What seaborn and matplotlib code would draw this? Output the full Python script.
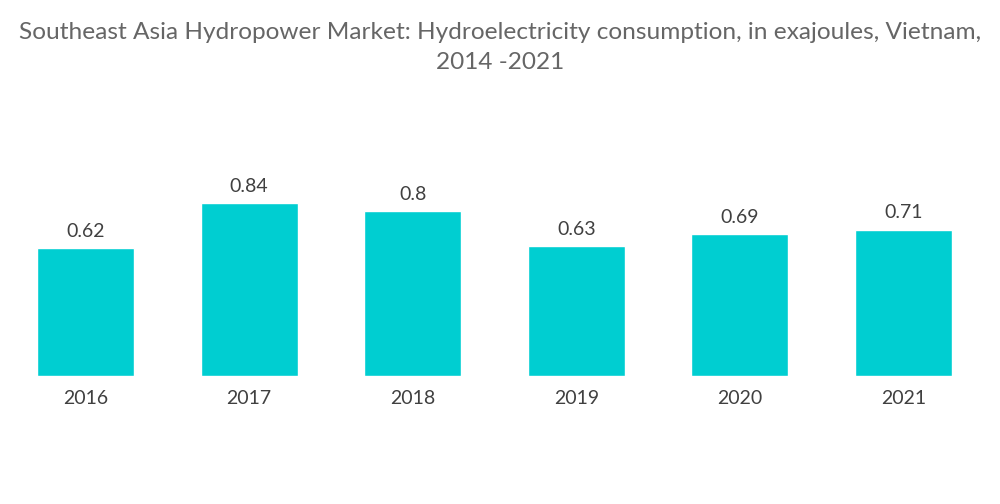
import matplotlib
matplotlib.use("Agg")
import matplotlib.pyplot as plt
import seaborn as sns
import pandas as pd

# ======================================
# DATA
# ======================================

years = ["2016", "2017", "2018", "2019", "2020", "2021"]
consumption = [0.62, 0.84, 0.8, 0.63, 0.69, 0.71]
value_labels = ["0.62", "0.84", "0.8", "0.63", "0.69", "0.71"]

title = ("Southeast Asia Hydropower Market: Hydroelectricity consumption, in exajoules, Vietnam,\n"
         "2014 -2021")

df = pd.DataFrame({"Year": years, "Consumption": consumption})

# ======================================
# PLOT
# ======================================

sns.set_style("white")
plt.rcParams["font.family"] = ["Lato", "DejaVu Sans"]

fig = plt.figure(figsize=(10, 5.04), dpi=100)
ax = fig.add_axes([0.0037, 0.254, 0.9816, 0.4087])

sns.barplot(data=df, x="Year", y="Consumption", color="#00CED1",
            saturation=1, width=0.593, ax=ax)

ax.set_xlim(-0.5, 5.5)
ax.set_ylim(0, 1)

for i, (v, lab) in enumerate(zip(consumption, value_labels)):
    ax.text(i, v + 0.04, lab, ha="center", va="bottom", fontsize=14, color="#404040")

ax.set_xlabel("")
ax.set_ylabel("")
ax.set_yticks([])
ax.tick_params(axis="x", length=0, labelsize=14, labelcolor="#404040", pad=10)
sns.despine(ax=ax, left=True, bottom=True)

fig.text(0.5, 0.957, title, ha="center", va="top", fontsize=17.6,
         color="#666666", linespacing=1.57)

fig.savefig("out.png", dpi=100, facecolor="white")
plt.close(fig)
